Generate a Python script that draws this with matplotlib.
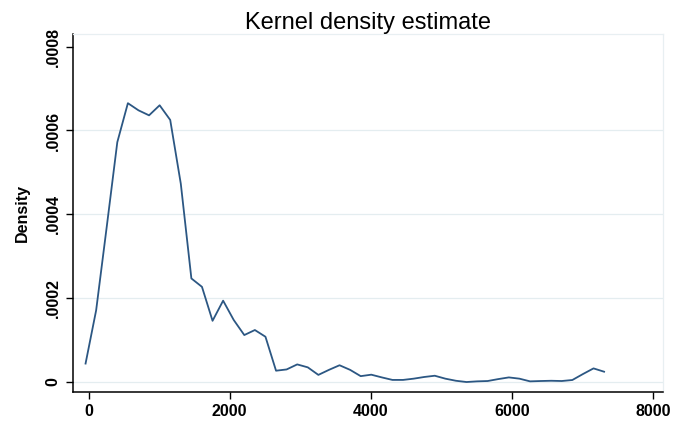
import matplotlib
matplotlib.use('Agg')
import matplotlib.pyplot as plt
from matplotlib.ticker import FuncFormatter

# kernel density estimate evaluated on 50 grid points
grid_x = [-42, 108, 258, 408, 558, 708, 858, 1008, 1158, 1308,
          1458, 1608, 1758, 1908, 2058, 2208, 2358, 2508, 2658, 2808,
          2958, 3108, 3258, 3408, 3558, 3708, 3858, 4008, 4158, 4308,
          4458, 4608, 4758, 4908, 5058, 5208, 5358, 5508, 5658, 5808,
          5958, 6108, 6258, 6408, 6558, 6708, 6858, 7008, 7158, 7308]
density = [0.000044, 0.000171, 0.000370, 0.000572, 0.000665, 0.000648, 0.000636, 0.000660, 0.000625, 0.000473,
           0.000247, 0.000227, 0.000146, 0.000194, 0.000148, 0.000112, 0.000124, 0.000108, 0.000027, 0.000030,
           0.000042, 0.000035, 0.000017, 0.000029, 0.000040, 0.000029, 0.000014, 0.0000175, 0.000011, 0.000005,
           0.000005, 0.000008, 0.000012, 0.000015, 0.000008, 0.000003, 0.0, 0.0000016, 0.0000024, 0.000007,
           0.000011, 0.000008, 0.0000016, 0.0000024, 0.000003, 0.0000024, 0.0000048, 0.000019, 0.0000325, 0.0000246]
xticks = [0, 2000, 4000, 6000, 8000]
yticks = [0, 0.0002, 0.0004, 0.0006, 0.0008]
grid_levels = [0, 0.0002, 0.0004, 0.0006]

plt.rcParams['font.family'] = ['Liberation Sans', 'DejaVu Sans']

fig = plt.figure(figsize=(6.84, 4.21), dpi=100)
ax = fig.add_axes([73/684, 29/421, 590/684, 358/421])

for g in grid_levels:
    ax.axhline(g, color='#e4edf0', lw=0.9, zorder=0)
ax.plot(grid_x, density, color='#2c5783', lw=1.3)

ax.set_xlim(-220, 8143)
ax.set_ylim(-0.0000238, 0.00083)
ax.set_xticks(xticks)
ax.set_yticks(yticks)


def stata_fmt(v, pos):
    if abs(v) < 1e-12:
        return '0'
    return ('%g' % v).lstrip('0') if v < 1 else '%g' % v


ax.yaxis.set_major_formatter(FuncFormatter(stata_fmt))
ax.tick_params(direction='out', length=5, width=1, labelsize=11.5, pad=4)
for lab in ax.get_xticklabels() + ax.get_yticklabels():
    lab.set_fontweight('bold')
for lab in ax.get_yticklabels():
    lab.set_rotation(90)
    lab.set_va('center')

for s in ['left', 'bottom']:
    ax.spines[s].set_color('black')
    ax.spines[s].set_linewidth(1.1)
for s in ['top', 'right']:
    ax.spines[s].set_color('#e8eff2')
    ax.spines[s].set_linewidth(0.9)

ax.set_ylabel('Density', fontsize=11.5, fontweight='bold', labelpad=11)
ax.set_title('Kernel density estimate', fontsize=17, pad=-1)

fig.savefig('out.png', dpi=100)
